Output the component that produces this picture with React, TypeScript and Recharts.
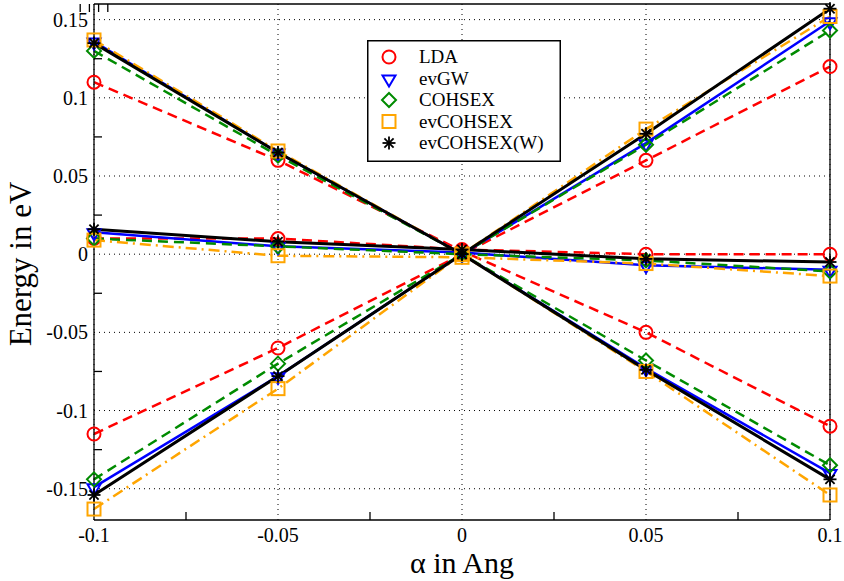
import React from "react";
import { LineChart, Line, XAxis, YAxis, CartesianGrid } from "recharts";

// --- Data ---

const ALPHA = [-0.1, -0.05, 0, 0.05, 0.1];

// each method has three bands: falling, rising and nearly flat
const LDA_FALL = [0.11, 0.06, 0.002, -0.05, -0.11];
const LDA_RISE = [-0.115, -0.06, 0, 0.06, 0.12];
const LDA_FLAT = [0.01, 0.01, 0.003, 0.0, 0.0];

const EVGW_FALL = [0.136, 0.065, 0, -0.073, -0.14];
const EVGW_RISE = [-0.149, -0.078, 0, 0.071, 0.149];
const EVGW_FLAT = [0.014, 0.005, 0.001, -0.007, -0.01];

const COHSEX_FALL = [0.13, 0.063, 0, -0.068, -0.135];
const COHSEX_RISE = [-0.144, -0.07, 0, 0.07, 0.143];
const COHSEX_FLAT = [0.01, 0.005, 0, -0.004, -0.011];

const EVCOHSEX_FALL = [0.137, 0.066, 0, -0.075, -0.154];
const EVCOHSEX_RISE = [-0.163, -0.086, 0, 0.08, 0.152];
const EVCOHSEX_FLAT = [0.009, -0.001, -0.002, -0.006, -0.014];

const EVCOHSEXW_FALL = [0.135, 0.065, 0, -0.074, -0.144];
const EVCOHSEXW_RISE = [-0.154, -0.078, 0, 0.077, 0.157];
const EVCOHSEXW_FLAT = [0.016, 0.008, 0.003, -0.003, -0.005];

const X_TICKS = [-0.1, -0.075, -0.05, -0.025, 0, 0.025, 0.05, 0.075, 0.1];
const X_MAJOR = [-0.1, -0.05, 0, 0.05, 0.1];
const Y_TICKS = [-0.15, -0.125, -0.1, -0.075, -0.05, -0.025, 0, 0.025, 0.05, 0.075, 0.1, 0.125, 0.15];
const Y_MAJOR = [-0.15, -0.1, -0.05, 0, 0.05, 0.1, 0.15];

const SERIES = [
  { name: "LDA", color: "#ff0000", dash: "10 6", width: 2.5, shape: "circle", bands: [LDA_FALL, LDA_RISE, LDA_FLAT] },
  { name: "evGW", color: "#0000ff", dash: undefined, width: 2.5, shape: "triangle", bands: [EVGW_FALL, EVGW_RISE, EVGW_FLAT] },
  { name: "COHSEX", color: "#008b00", dash: "10 6", width: 2.5, shape: "diamond", bands: [COHSEX_FALL, COHSEX_RISE, COHSEX_FLAT] },
  { name: "evCOHSEX", color: "#ffa500", dash: "11 5 2 5", width: 2.5, shape: "square", bands: [EVCOHSEX_FALL, EVCOHSEX_RISE, EVCOHSEX_FLAT] },
  { name: "evCOHSEX(W)", color: "#000000", dash: undefined, width: 3, shape: "star", bands: [EVCOHSEXW_FALL, EVCOHSEXW_RISE, EVCOHSEXW_FLAT] },
];

const ROWS = ALPHA.map((a, i) => {
  const row: Record<string, number> = { alpha: a };
  SERIES.forEach((s) => s.bands.forEach((b, j) => (row[`${s.name}_${j}`] = b[i])));
  return row;
});

const SERIF = { fontFamily: "Liberation Serif, DejaVu Serif, serif" };

function Marker({ shape, cx, cy, color }: { shape: string; cx: number; cy: number; color: string }) {
  const common = { fill: "none", stroke: color, strokeWidth: 2 };
  if (shape === "circle") return <circle cx={cx} cy={cy} r={6.5} {...common} />;
  if (shape === "triangle")
    return <polygon points={`${cx - 6.5},${cy - 3} ${cx + 6.5},${cy - 3} ${cx},${cy + 8}`} {...common} />;
  if (shape === "diamond")
    return <polygon points={`${cx},${cy - 7} ${cx + 7},${cy} ${cx},${cy + 7} ${cx - 7},${cy}`} {...common} />;
  if (shape === "square") return <rect x={cx - 6.5} y={cy - 6.5} width={13} height={13} {...common} />;
  const r = 6.5;
  const d = r * 0.7071;
  return (
    <g stroke={color} strokeWidth={1.8}>
      <line x1={cx} y1={cy - r} x2={cx} y2={cy + r} />
      <line x1={cx - r} y1={cy} x2={cx + r} y2={cy} />
      <line x1={cx - d} y1={cy - d} x2={cx + d} y2={cy + d} />
      <line x1={cx - d} y1={cy + d} x2={cx + d} y2={cy - d} />
    </g>
  );
}

// ticks point into the plot; only major ticks get labels (and a dotted grid line instead of a tick)
const BottomTick = (p: any) => {
  const major = X_MAJOR.includes(p.payload.value);
  return (
    <g>
      {!major && <line x1={p.x} x2={p.x} y1={p.y} y2={p.y - 8} stroke="#000" strokeWidth={1.3} />}
      {major && (
        <text x={p.x} y={p.y + 22} textAnchor="middle" fontSize={20} style={SERIF} fill="#000">
          {String(p.payload.value)}
        </text>
      )}
    </g>
  );
};

const TopTick = (p: any) =>
  X_MAJOR.includes(p.payload.value) ? <g /> : <line x1={p.x} x2={p.x} y1={p.y} y2={p.y + 8} stroke="#000" strokeWidth={1.3} />;

const LeftTick = (p: any) => {
  const major = Y_MAJOR.includes(p.payload.value);
  return (
    <g>
      {!major && <line x1={p.x} x2={p.x + 8} y1={p.y} y2={p.y} stroke="#000" strokeWidth={1.3} />}
      {major && (
        <text x={p.x - 6} y={p.y + 7} textAnchor="end" fontSize={20} style={SERIF} fill="#000">
          {String(p.payload.value)}
        </text>
      )}
    </g>
  );
};

const RightTick = (p: any) =>
  Y_MAJOR.includes(p.payload.value) ? <g /> : <line x1={p.x} x2={p.x - 8} y1={p.y} y2={p.y} stroke="#000" strokeWidth={1.3} />;

function LegendBox() {
  return (
    <svg width={194} height={122} style={{ position: "absolute", left: 367, top: 40, background: "#fff" }}>
      <rect x={0.75} y={0.75} width={192.5} height={120.5} fill="#fff" stroke="#000" strokeWidth={1.5} />
      {SERIES.map((s, i) => {
        const cy = 17 + i * 21.5;
        return (
          <g key={s.name}>
            <Marker shape={s.shape} cx={22} cy={cy} color={s.color} />
            <text x={52} y={cy + 6} fontSize={19} style={SERIF} fill="#000">
              {s.name}
            </text>
          </g>
        );
      })}
    </svg>
  );
}

export default function App() {
  return (
    <div style={{ position: "absolute", left: 0, top: 0, width: 844, height: 581, background: "#fff" }}>
      <LineChart width={844} height={581} data={ROWS} margin={{ top: 0, right: 0, bottom: 0, left: 0 }}>
        <CartesianGrid
          stroke="#000"
          strokeWidth={1}
          strokeDasharray="1 4"
          horizontalValues={Y_MAJOR}
          verticalValues={X_MAJOR}
        />
        <XAxis
          dataKey="alpha"
          type="number"
          domain={[-0.1, 0.1]}
          ticks={X_TICKS}
          interval={0}
          height={61}
          tickSize={0}
          tickMargin={0}
          tick={BottomTick}
          axisLine={{ stroke: "#000", strokeWidth: 1.3 }}
          label={{
            content: (props: any) => {
              const vb = props.viewBox;
              return (
                <text x={vb.x + vb.width / 2} y={vb.y + 53} textAnchor="middle" fontSize={30} style={SERIF} fill="#000">
                  α in Ang
                </text>
              );
            },
          }}
        />
        <XAxis
          xAxisId="top"
          orientation="top"
          type="number"
          domain={[-0.1, 0.1]}
          ticks={X_TICKS}
          interval={0}
          height={4}
          tickSize={0}
          tickMargin={0}
          tick={TopTick}
          axisLine={{ stroke: "#000", strokeWidth: 1.3 }}
        />
        <YAxis
          type="number"
          domain={[-0.17, 0.16]}
          ticks={Y_TICKS}
          interval={0}
          width={94}
          tickSize={0}
          tickMargin={0}
          tick={LeftTick}
          axisLine={{ stroke: "#000", strokeWidth: 1.3 }}
          label={{
            content: (props: any) => {
              const vb = props.viewBox;
              const cx = vb.x + 31;
              const cy = vb.y + vb.height / 2 + 2;
              return (
                <text x={cx} y={cy} transform={`rotate(-90 ${cx} ${cy})`} textAnchor="middle" fontSize={31} style={SERIF} fill="#000">
                  Energy in eV
                </text>
              );
            },
          }}
        />
        <YAxis
          yAxisId="right"
          orientation="right"
          type="number"
          domain={[-0.17, 0.16]}
          ticks={Y_TICKS}
          interval={0}
          width={14}
          tickSize={0}
          tickMargin={0}
          tick={RightTick}
          axisLine={{ stroke: "#000", strokeWidth: 1.3 }}
        />
        {SERIES.flatMap((s) =>
          s.bands.map((_, j) => (
            <Line
              key={`${s.name}_${j}`}
              dataKey={`${s.name}_${j}`}
              type="linear"
              stroke={s.color}
              strokeWidth={s.width}
              strokeDasharray={s.dash}
              isAnimationActive={false}
              activeDot={false}
              dot={(p: any) => (
                <Marker key={`${s.name}_${j}_${p.index}`} shape={s.shape} cx={p.cx} cy={p.cy} color={s.color} />
              )}
            />
          ))
        )}
      </LineChart>
      <LegendBox />
    </div>
  );
}
